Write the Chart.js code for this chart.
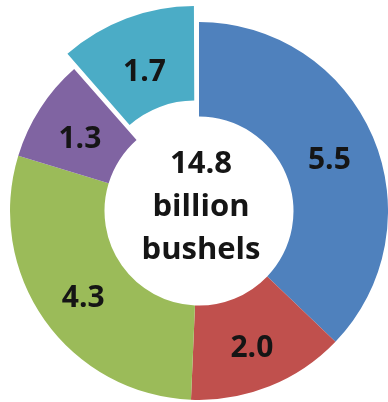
<!DOCTYPE html>
<html>
<head>
<meta charset="utf-8">
<script src="https://cdn.jsdelivr.net/npm/chart.js@4.4.0/dist/chart.umd.min.js"></script>
<style>
  html, body { margin: 0; padding: 0; background: #fff; overflow: hidden; }
  #wrap { position: relative; width: 388px; height: 402px; }
</style>
</head>
<body>
<div id="wrap"><canvas id="chart" width="388" height="402"></canvas></div>
<script>
const categories = ['A', 'B', 'C', 'D', 'E'];
const values = [5.5, 2.0, 4.3, 1.3, 1.7];
const colors = ['#4f81bd', '#c0504d', '#9bbb59', '#8064a2', '#4bacc6'];
// Chart.js moves an arc out by a quarter of its offset value
const offsets = [0, 0, 0, 0, 50];
const centerLines = ['14.8', 'billion', 'bushels'];

const FONT = '"Open Sans", "DejaVu Sans", sans-serif';

// value labels in the middle of each ring segment, plus the total in the hole
const labelPlugin = {
  id: 'labels',
  afterDatasetsDraw(chart) {
    const ctx = chart.ctx;
    const meta = chart.getDatasetMeta(0);
    ctx.save();
    ctx.fillStyle = '#151515';
    ctx.textAlign = 'center';
    ctx.textBaseline = 'alphabetic';
    ctx.font = 'bold 30px ' + FONT;
    meta.data.forEach((arc, i) => {
      const mid = (arc.startAngle + arc.endAngle) / 2;
      const r = (arc.innerRadius + arc.outerRadius) / 2 + offsets[i] / 4;
      ctx.fillText(values[i].toFixed(1), arc.x + Math.cos(mid) * r, arc.y + Math.sin(mid) * r + 14);
    });
    const arc0 = meta.data[0];
    ctx.font = 'bold 31px ' + FONT;
    centerLines.forEach((t, k) => {
      ctx.fillText(t, arc0.x + 2, arc0.y - 38 + k * 43);
    });
    ctx.restore();
  }
};

new Chart(document.getElementById('chart'), {
  type: 'doughnut',
  data: {
    labels: categories,
    datasets: [{
      data: values,
      backgroundColor: colors,
      borderWidth: 0,
      offset: offsets
    }]
  },
  options: {
    responsive: false,
    animation: false,
    radius: 189,
    cutout: '50%',
    layout: { padding: { left: 10, right: 0, top: 20, bottom: 0 } },
    plugins: { legend: { display: false }, tooltip: { enabled: false } }
  },
  plugins: [labelPlugin]
});
</script>
</body>
</html>
